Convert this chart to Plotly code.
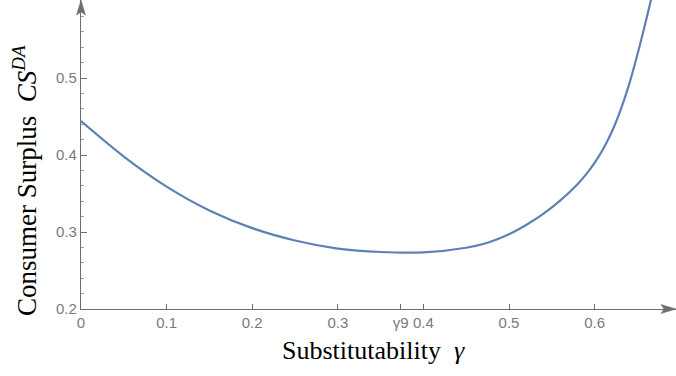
import plotly.graph_objects as go

# Data
gamma = [0, 0.05, 0.1, 0.15, 0.2, 0.25, 0.3, 0.35, 0.4, 0.45, 0.475, 0.5,
         0.52, 0.54, 0.56, 0.58, 0.59, 0.60, 0.61, 0.62, 0.63, 0.64, 0.65, 0.66, 0.666]
cs_da = [0.444, 0.398, 0.359, 0.328, 0.305, 0.289, 0.2785, 0.274, 0.2735, 0.2795, 0.2860, 0.2970,
         0.3090, 0.3234, 0.3410, 0.3621, 0.3749, 0.3899, 0.4079, 0.4299, 0.4574, 0.4904,
         0.5304, 0.5744, 0.602]

x_tickvals = [0, 0.1, 0.2, 0.3, 0.3734, 0.4, 0.5, 0.6]
x_ticktext = ["0", "0.1", "0.2", "0.3", "γ9", "0.4", "0.5", "0.6"]
y_tickvals = [0.2, 0.3, 0.4, 0.5]
y_ticktext = ["0.2", "0.3", "0.4", "0.5"]

W, H = 676, 376
L, B = 81, 67
PW, PH = W - L, H - B
px_per_x = 856.0
px_per_y = 770.0
x_max = PW / px_per_x
y_max = 0.2 + PH / px_per_y

axis_col = "#6e6e6e"
lab_col = "#7a7a7a"
line_col = "#5E81B5"

fig = go.Figure()
fig.add_trace(go.Scatter(x=gamma, y=cs_da, mode="lines",
                         line=dict(color=line_col, width=2.2, shape="spline", smoothing=0.8),
                         hoverinfo="skip", showlegend=False, cliponaxis=True))

tick_font = dict(family="Liberation Sans, Arial", size=15, color=lab_col)
fig.update_layout(
    width=W, height=H,
    margin=dict(l=L, r=0, t=0, b=B),
    paper_bgcolor="white", plot_bgcolor="white",
    xaxis=dict(range=[0, x_max], showgrid=False, zeroline=False,
               showline=True, linecolor=axis_col, linewidth=1.2,
               ticks="inside", ticklen=5, tickcolor=axis_col, tickwidth=1,
               tickmode="array", tickvals=x_tickvals, ticktext=x_ticktext,
               tickfont=tick_font),
    yaxis=dict(range=[0.2, y_max], showgrid=False, zeroline=False,
               showline=True, linecolor=axis_col, linewidth=1.2,
               ticks="inside", ticklen=6, tickcolor=axis_col, tickwidth=1,
               tickmode="array", tickvals=y_tickvals, ticktext=y_ticktext,
               minor=dict(tickmode="linear", tick0=0.2, dtick=0.02, ticks="inside",
                          ticklen=3, tickcolor="#9a9a9a", tickwidth=1),
               tickfont=tick_font),
)

# arrowheads at the ends of the axes (paper coordinates)
ax, ay = 1.0 / PW, 1.0 / PH
fig.add_shape(type="path", xref="paper", yref="paper",
              path=f"M 1,0 L {1-15*ax},{4.5*ay} L {1-12*ax},0 L {1-15*ax},{-4.5*ay} Z",
              fillcolor=axis_col, line=dict(color=axis_col, width=0.5))
fig.add_shape(type="path", xref="paper", yref="paper",
              path=f"M 0,1 L {-4.5*ax},{1-15*ay} L 0,{1-12*ay} L {4.5*ax},{1-15*ay} Z",
              fillcolor=axis_col, line=dict(color=axis_col, width=0.5))

title_font = dict(family="Liberation Serif, Times New Roman", size=26, color="black")
fig.add_annotation(xref="paper", yref="paper", x=0.5 - 5.0 / PW, y=-41.0 / PH,
                   xanchor="center", yanchor="middle", showarrow=False,
                   text="Substitutability&nbsp;&nbsp;<i>γ</i>", font=title_font)
fig.add_annotation(xref="paper", yref="paper", x=-(L - 25.0) / PW, y=1 - 181.0 / PH,
                   xanchor="center", yanchor="middle", showarrow=False, textangle=-90,
                   text="Consumer Surplus&nbsp;&nbsp;<i>CS</i><sup><i>DA</i></sup>",
                   font=dict(family="Liberation Serif, Times New Roman", size=27, color="black"))

fig.write_html("out.html")
